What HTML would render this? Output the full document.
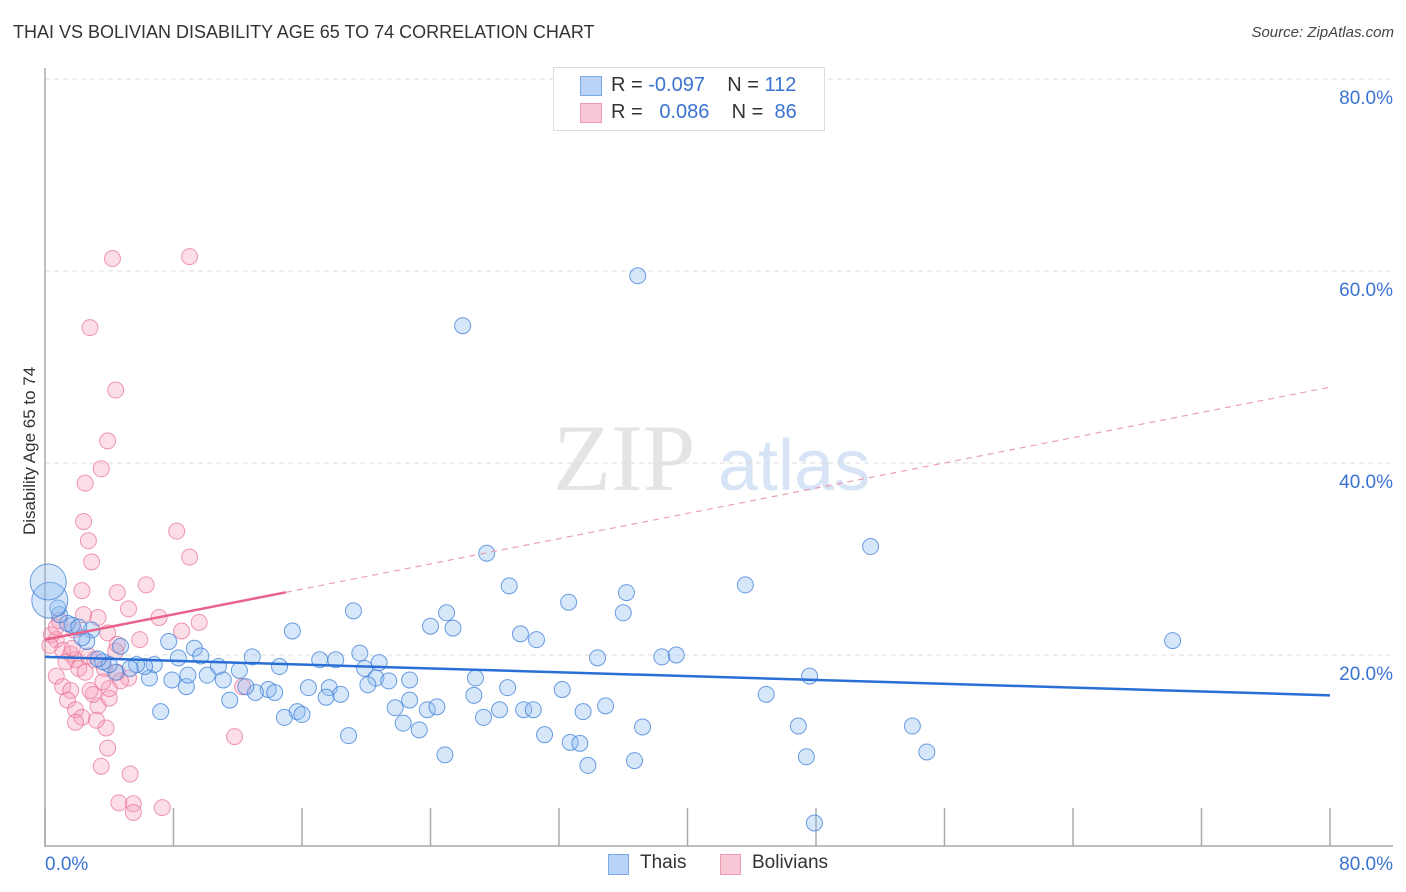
<!DOCTYPE html>
<html><head><meta charset="utf-8"><style>
body{margin:0;background:#fff;font-family:"Liberation Sans",sans-serif;}
#wrap{position:relative;width:1406px;height:892px;overflow:hidden;}
.t{position:absolute;white-space:nowrap;}
</style></head><body>
<div id="wrap">
<div class="t" style="left:13px;top:22px;font-size:18px;color:#333;">THAI VS BOLIVIAN DISABILITY AGE 65 TO 74 CORRELATION CHART</div>
<div class="t" style="right:12px;top:24px;font-size:15px;color:#444;font-style:italic;">Source: ZipAtlas.com</div>
<div class="t" style="left:-50px;top:445px;font-size:17px;color:#333;transform:rotate(-90deg);width:160px;text-align:center;">Disability Age 65 to 74</div>
<svg id="plot" width="1406" height="892" style="position:absolute;left:0;top:0"></svg>
<div style="position:absolute;left:553px;top:67px;width:270px;height:62px;border:1px solid #ddd;background:#fff;font-size:20px;">
 <div style="position:absolute;left:26px;top:8px;width:20px;height:18px;background:#b8d3f5;border:1px solid #7aa8e8;"></div>
 <div class="t" style="left:57px;top:6px;color:#333;">R = <span style="color:#3a74d0">-0.097</span>&nbsp;&nbsp;&nbsp; N = <span style="color:#3a74d0">112</span></div>
 <div style="position:absolute;left:26px;top:35px;width:20px;height:18px;background:#f9c8d6;border:1px solid #ef9ab3;"></div>
 <div class="t" style="left:57px;top:33px;color:#333;">R = &nbsp; <span style="color:#3a74d0">0.086</span>&nbsp;&nbsp;&nbsp; N = &nbsp;<span style="color:#3a74d0">86</span></div>
</div>
<div style="position:absolute;left:608px;top:854px;width:19px;height:19px;background:#b8d3f5;border:1px solid #7aa8e8;"></div>
<div class="t" style="left:640px;top:852px;font-size:19px;color:#333;">Thais</div>
<div style="position:absolute;left:720px;top:854px;width:19px;height:19px;background:#f9c8d6;border:1px solid #ef9ab3;"></div>
<div class="t" style="left:752px;top:852px;font-size:19px;color:#333;">Bolivians</div>
</div>
<script>
const thaiX=[36.9,26.0,51.4,27.5,70.2,43.6,36.2,28.9,32.6,36.0,19.2,25.0,24.0,25.4,15.4,29.6,30.6,38.4,39.3,34.4,47.6,44.9,32.2,34.9,33.5,37.2,46.9,54.0,54.9,47.4,47.9,36.7,33.8,24.9,31.1,32.7,33.3,28.8,26.7,26.8,27.3,28.3,29.8,30.4,22.7,22.7,21.8,22.3,23.3,23.8,24.4,20.8,19.9,20.6,21.4,20.1,19.6,18.1,17.1,17.7,18.4,17.5,16.4,15.7,14.9,16.0,18.9,14.6,13.9,14.3,13.1,12.5,12.9,12.1,11.5,10.8,10.1,9.3,9.7,8.8,8.9,8.3,7.9,7.7,7.2,6.8,6.5,6.2,5.7,5.3,4.7,4.4,4.0,3.6,3.3,2.9,2.6,2.3,1.7,1.4,0.9,0.8,2.1,11.1];
const thaiY=[59.5,54.3,31.3,30.6,21.5,27.3,26.5,27.2,25.5,24.4,24.6,24.4,23.0,22.8,22.5,22.2,21.6,19.8,20.0,19.7,17.8,15.9,16.4,14.7,14.1,12.5,12.6,12.6,9.9,9.4,2.5,9.0,8.5,9.6,11.7,10.9,10.8,16.6,15.8,17.6,13.5,14.3,14.3,14.3,15.3,17.4,14.5,12.9,12.2,14.3,14.6,19.2,18.6,17.6,17.3,16.9,20.2,19.5,19.5,16.6,15.9,15.6,16.6,14.1,13.5,13.8,11.6,18.8,16.4,16.1,16.1,16.7,19.8,18.4,15.3,18.8,17.9,20.7,19.9,16.7,17.9,19.7,17.4,21.4,14.1,19.0,17.6,18.8,19.0,18.6,20.9,18.2,19.0,19.3,19.6,22.6,21.4,21.8,23.1,23.3,24.2,24.9,22.9,17.4];
const thaiBigX=[0.3,0.2];
const thaiBigY=[25.7,27.6];
const bolX=[4.2,9.0,2.8,4.4,3.9,3.5,2.5,2.4,8.2,2.7,9.0,2.9,6.3,2.3,4.5,5.2,7.1,9.6,3.3,2.4,8.5,3.9,5.9,4.5,0.9,0.4,0.7,1.1,1.6,1.9,1.3,1.7,2.7,3.1,2.1,3.7,4.5,5.2,0.7,1.1,1.6,1.4,1.9,2.3,1.9,3.3,3.0,2.8,4.0,3.8,3.2,3.9,3.5,5.3,4.6,5.5,5.5,7.3,11.8,12.3,0.7,0.3,4.4,2.5,4.7,4.0,3.6,1.8];
const bolY=[61.3,61.5,54.1,47.6,42.3,39.4,37.9,33.9,32.9,31.9,30.2,29.7,27.3,26.7,26.5,24.8,23.9,23.4,23.9,24.2,22.5,22.3,21.6,21.1,23.6,22.1,21.6,20.5,20.1,19.5,19.3,20.7,19.9,19.5,18.6,18.6,18.2,17.6,17.8,16.7,16.3,15.3,14.3,13.5,13.0,14.7,15.9,16.3,15.5,12.4,13.2,10.3,8.4,7.6,4.6,4.5,3.6,4.1,11.5,16.7,22.9,21.0,20.4,18.2,17.3,16.5,17.2,22.6];
const yTicks=[20,40,60,80];
const xTickVals=[0,10,20,30,40,50,60,70,80];
const thaiTrend=[19.8,15.8];
const bolTrend=[21.6,47.9];
const bolSolidEnd=15;

const X=v=>45+v*(1330-45)/80;
const Y=v=>847-v*9.6;
const svg=document.getElementById('plot');
const NS='http://www.w3.org/2000/svg';
function mk(tag,attrs,name){const e=document.createElementNS(NS,tag);for(const k in attrs)e.setAttribute(k,attrs[k]);


svg.appendChild(e);return e;}
// watermark
const w1=mk('text',{x:553,y:490,'font-family':'Liberation Serif,serif','font-size':95,fill:'#e4e4e4'},'watermark-zip');w1.textContent='ZIP';
const w2=mk('text',{x:718,y:490,'font-family':'Liberation Sans,sans-serif','font-size':72,fill:'#d6e4f5'},'watermark-atlas');w2.textContent='atlas';
yTicks.forEach(t=>{
 mk('line',{x1:45,x2:1393,y1:Y(t),y2:Y(t),stroke:'#ddd','stroke-dasharray':'5,4'},'gridline-'+t);
 const tx=mk('text',{x:1393,y:Y(t)+25,'text-anchor':'end','font-size':19,fill:'#3a74d0','font-family':'Liberation Sans,sans-serif'},'y-tick-label-'+t);tx.textContent=t.toFixed(1)+'%';
});
mk('line',{x1:45,x2:45,y1:68,y2:847,stroke:'#aaa','stroke-width':1.5},'y-axis-line');
mk('line',{x1:45,x2:1393,y1:846,y2:846,stroke:'#aaa','stroke-width':1.5},'x-axis-line');
for(let i=0;i<=10;i++){const v=i*8;mk('line',{x1:X(v),x2:X(v),y1:808,y2:846,stroke:'#aaa','stroke-width':1.5},'x-tick');}
const l0=mk('text',{x:45,y:870,'font-size':19,fill:'#3a74d0','font-family':'Liberation Sans,sans-serif'},'x-tick-label-0');l0.textContent='0.0%';
const l1=mk('text',{x:1393,y:870,'text-anchor':'end','font-size':19,fill:'#3a74d0','font-family':'Liberation Sans,sans-serif'},'x-tick-label-80');l1.textContent='80.0%';
bolX.forEach((x,i)=>mk('circle',{cx:X(x),cy:Y(bolY[i]),r:8,fill:'rgba(246,160,186,0.35)',stroke:'rgba(232,110,148,0.7)','stroke-width':1},'bolivian-point'));
thaiX.forEach((x,i)=>mk('circle',{cx:X(x),cy:Y(thaiY[i]),r:8,fill:'rgba(140,185,240,0.35)',stroke:'rgba(60,125,215,0.75)','stroke-width':1},'thai-point'));
thaiBigX.forEach((x,i)=>mk('circle',{cx:X(x),cy:Y(thaiBigY[i]),r:18-i*0,fill:'rgba(140,185,240,0.35)',stroke:'rgba(60,125,215,0.75)','stroke-width':1},'thai-point-large'));
mk('line',{x1:X(0),y1:Y(thaiTrend[0]),x2:X(80),y2:Y(thaiTrend[1]),stroke:'#2a6fd6','stroke-width':2.5},'thai-trend-line');
const bs=v=>bolTrend[0]+(bolTrend[1]-bolTrend[0])*v/80;
mk('line',{x1:X(0),y1:Y(bolTrend[0]),x2:X(bolSolidEnd),y2:Y(bs(bolSolidEnd)),stroke:'#e8628c','stroke-width':2.5},'bolivian-trend-line');
mk('line',{x1:X(bolSolidEnd),y1:Y(bs(bolSolidEnd)),x2:X(80),y2:Y(bolTrend[1]),stroke:'#e8a0b5','stroke-width':1.2,'stroke-dasharray':'6,5'},'bolivian-trend-extension');
</script>
</body></html>
